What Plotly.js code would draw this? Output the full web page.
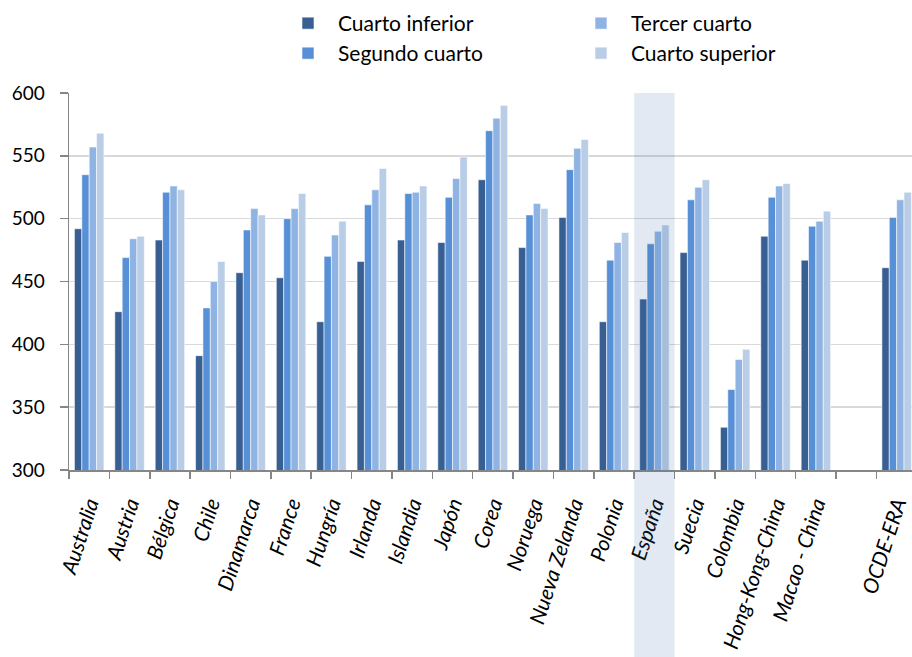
<!DOCTYPE html>
<html>
<head>
<meta charset="utf-8">
<script src="https://cdn.plot.ly/plotly-3.0.1.min.js"></script>
<style>html,body{margin:0;padding:0;background:#fff;}#chart{width:912px;height:657px;}</style>
</head>
<body>
<div id="chart"></div>
<script>
const categories = ['Australia','Austria','Bélgica','Chile','Dinamarca','France','Hungría','Irlanda','Islandia','Japón','Corea','Noruega','Nueva Zelanda','Polonia','España','Suecia','Colombia','Hong-Kong-China','Macao - China',' ','OCDE-ERA'];
const cuartoInferior = [492,426,483,391,457,453,418,466,483,481,531,477,501,418,436,473,334,486,467,null,461];
const segundoCuarto  = [535,469,521,429,491,500,470,511,520,517,570,503,539,467,480,515,364,517,494,null,501];
const tercerCuarto   = [557,484,526,450,508,508,487,523,521,532,580,512,556,481,490,525,388,526,498,null,515];
const cuartoSuperior = [568,486,523,466,503,520,498,540,526,549,590,508,563,489,495,531,396,528,506,null,521];
const seriesNames = ['Cuarto inferior','Segundo cuarto','Tercer cuarto','Cuarto superior'];
const yTicks = [300,350,400,450,500,550,600];
const highlighted = 'España';

const colors = ['#385f92','#5790d6','#8fb4e3','#b9cde6'];
const legendFor = ['legend','legend2','legend','legend2'];
const data = [cuartoInferior, segundoCuarto, tercerCuarto, cuartoSuperior].map((vals,i)=>({
  type:'bar', x:categories, y:vals, name:seriesNames[i],
  marker:{color:colors[i], line:{color:'rgba(255,255,255,0.7)', width:0.8}},
  legend:legendFor[i], hoverinfo:'x+y+name'
}));

const hi = categories.indexOf(highlighted);
const legendFont = {family:'Lato, "Open Sans", sans-serif', size:21, color:'#000'};
const legendBase = {orientation:'h', xref:'container', yref:'container', x:278/912, xanchor:'left', yanchor:'top',
    font:legendFont, itemwidth:50, entrywidth:228, entrywidthmode:'pixels', bgcolor:'rgba(0,0,0,0)', itemclick:false};
const layout = {
  width:912, height:657,
  margin:{l:69, r:0, t:93, b:187},
  paper_bgcolor:'#fff', plot_bgcolor:'#fff',
  barmode:'group', bargap:0.27, bargroupgap:0,
  showlegend:true,
  legend:Object.assign({}, legendBase, {y:1-3/657}),
  legend2:Object.assign({}, legendBase, {y:1-33/657}),
  xaxis:{type:'category', tickson:'boundaries', ticks:'outside', ticklen:7, tickcolor:'#868686', tickwidth:1.5,
    showline:true, linecolor:'#868686', linewidth:1.5, showgrid:false,
    tickangle:-72, ticklabelstandoff:12, tickfont:{family:'Lato, "Open Sans", sans-serif', size:21, style:'italic', color:'#000'},
    range:[-0.5, categories.length-0.62], fixedrange:true},
  yaxis:{range:[300,600], tickvals:yTicks, ticktext:yTicks.map(String), ticks:'outside', ticklen:8, tickcolor:'#868686', tickwidth:1.5,
    showline:true, linecolor:'#868686', linewidth:1.5, showgrid:true, gridcolor:'#d9d9d9', gridwidth:1.5, zeroline:false,
    ticklabelstandoff:11, tickfont:{family:'Lato, "Open Sans", sans-serif', size:19, color:'#000'}, fixedrange:true},
  shapes:[{type:'rect', xref:'x', yref:'paper', x0:hi-0.5, x1:hi+0.5, y0:-0.6, y1:1,
    fillcolor:'rgba(60,105,170,0.15)', line:{width:0}, layer:'above'}]
};
Plotly.newPlot('chart', data, layout, {displayModeBar:false, staticPlot:true});
</script>
</body>
</html>
